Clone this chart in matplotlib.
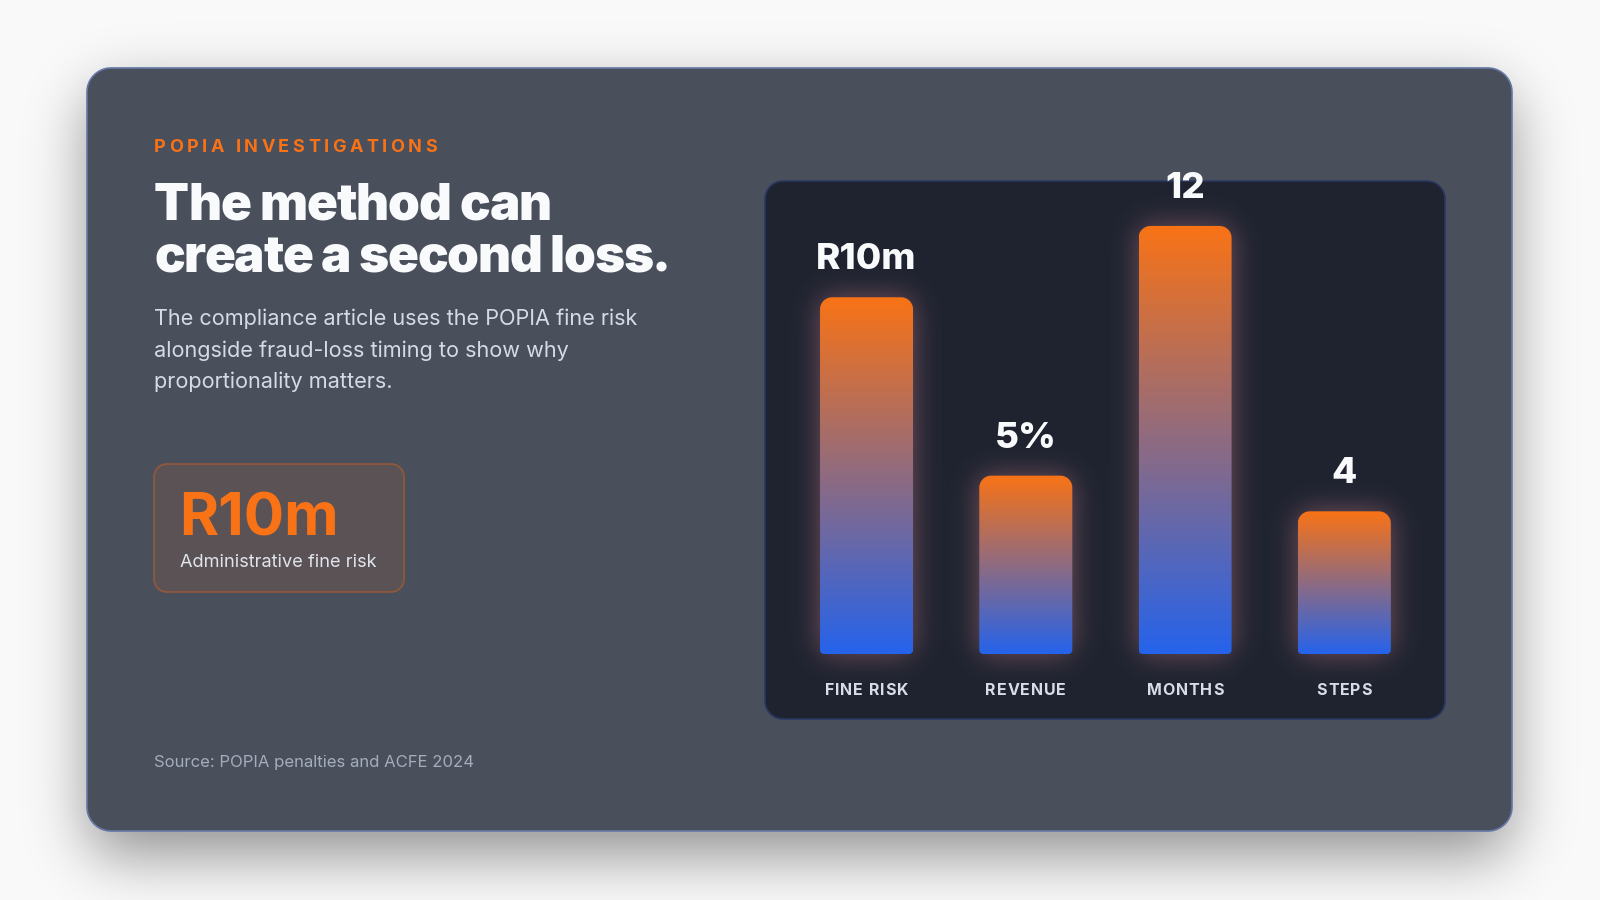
import numpy as np
import matplotlib
matplotlib.use("Agg")
import matplotlib.pyplot as plt
from matplotlib.path import Path
from matplotlib.patches import PathPatch
from matplotlib.font_manager import FontProperties
from matplotlib.textpath import TextToPath

plt.rcParams['font.family'] = ['Inter', 'DejaVu Sans']

# ---- content ----
eyebrow = "POPIA INVESTIGATIONS"
title_lines = ["The method can", "create a second loss."]
body_lines = ["The compliance article uses the POPIA fine risk",
              "alongside fraud-loss timing to show why",
              "proportionality matters."]
kpi_value = "R10m"
kpi_label = "Administrative fine risk"
source = "Source: POPIA penalties and ACFE 2024"

categories = ["FINE RISK", "REVENUE", "MONTHS", "STEPS"]
values = [10, 5, 12, 4]
value_labels = ["R10m", "5%", "12", "4"]

W, H = 1600, 900
ORANGE = np.array([249, 115, 22]) / 255
BLUE = np.array([37, 99, 235]) / 255
GLOW = np.array([205, 130, 140]) / 255


def rounded_verts(x0, y0, x1, y1, rt, rb, n=16):
    # pixel coords with y pointing down, y0 = top edge
    def arc(cx, cy, r, a0, a1):
        t = np.linspace(a0, a1, n)
        return np.column_stack([cx + r * np.cos(t), cy + r * np.sin(t)])
    v = np.vstack([arc(x1 - rt, y0 + rt, rt, -np.pi / 2, 0),
                   arc(x1 - rb, y1 - rb, rb, 0, np.pi / 2),
                   arc(x0 + rb, y1 - rb, rb, np.pi / 2, np.pi),
                   arc(x0 + rt, y0 + rt, rt, np.pi, 1.5 * np.pi)])
    return np.vstack([v, v[:1]])


def rr_mask(x0, y0, x1, y1, r):
    xx = np.arange(W)[None, :] + 0.5
    yy = np.arange(H)[:, None] + 0.5
    cx, cy = (x0 + x1) / 2, (y0 + y1) / 2
    dx = np.maximum(np.abs(xx - cx) - ((x1 - x0) / 2 - r), 0)
    dy = np.maximum(np.abs(yy - cy) - ((y1 - y0) / 2 - r), 0)
    return (np.hypot(dx, dy) <= r).astype(float)


def blur(a, s, pad=200):
    a = np.pad(a, pad)
    fy = np.fft.fftfreq(a.shape[0])
    fx = np.fft.fftfreq(a.shape[1])
    g = np.exp(-2 * (np.pi * s) ** 2 * (fy[:, None] ** 2 + fx[None, :] ** 2))
    out = np.real(np.fft.ifft2(np.fft.fft2(a) * g))
    return out[pad:-pad, pad:-pad]


def add_rr(ax, x0, y0, x1, y1, r, **kw):
    p = PathPatch(Path(rounded_verts(x0, y0, x1, y1, r, r), closed=True), **kw)
    ax.add_patch(p)
    return p


ttp = TextToPath()


def spaced_text(ax, x, y, s, size, weight, color, width=None, spacing=0.0,
                align='left', **kw):
    # letter-spaced text; either stretched to a pixel width or with fixed extra spacing
    fp = FontProperties(family=['Inter', 'DejaVu Sans'], weight=weight, size=size)
    tw = lambda q: ttp.get_text_width_height_descent(q, fp, ismath=False)[0] * 100 / 72
    base = tw("HH")
    adv = [tw("H" + c + "H") - base for c in s]
    last = tw(s[-1])
    if width is not None:
        spacing = (width - sum(adv[:-1]) - last) / (len(s) - 1)
    total = sum(adv[:-1]) + last + spacing * (len(s) - 1)
    pos = x - total / 2 if align == 'center' else x
    for c, a in zip(s, adv):
        ax.text(pos, y, c, fontsize=size, fontweight=weight, color=color,
                ha='left', **kw)
        pos += a + spacing


fig = plt.figure(figsize=(16, 9), dpi=100)
fig.patch.set_facecolor('#f9f9fa')

bg = fig.add_axes([0, 0, 1, 1])
bg.set_xlim(0, W)
bg.set_ylim(H, 0)
bg.axis('off')

# card and its shadow
card = (87, 68, 1512, 831)
sh = blur(rr_mask(card[0] + 2, card[1] + 24, card[2] - 2, card[3] + 24, 24), 30)
sh_img = np.zeros((H, W, 4))
sh_img[..., 3] = np.clip(sh * 0.42, 0, 1)
bg.imshow(sh_img, extent=(0, W, H, 0), zorder=0, interpolation='bilinear')
add_rr(bg, *card, 24, facecolor='#4a4f5c', edgecolor='#6478a6', lw=1.2, zorder=1)

# chart panel
panel = (765, 181, 1445, 719)
add_rr(bg, *panel, 18, facecolor='#1f2330', edgecolor='#2a3860', lw=1.2, zorder=2)

# bar axes
ax = fig.add_axes([panel[0] / W, 1 - 654 / H, (panel[2] - panel[0]) / W, (654 - panel[1]) / H])
ax.set_xlim(-0.6375, 3.632)
ax.set_ylim(0, max(values) * 1.105)
ax.axis('off')
x = np.arange(len(values))
bars = ax.bar(x, values, width=0.584)

rects = []
for r in bars:
    (dx0, dy0) = ax.transData.transform((r.get_x(), 0))
    (dx1, dy1) = ax.transData.transform((r.get_x() + r.get_width(), r.get_height()))
    rects.append((dx0, H - dy1, dx1, H - dy0))
    r.set_visible(False)

# soft glow behind bars
gm = np.zeros((H, W))
for (x0, y0, x1, y1) in rects:
    gm = np.maximum(gm, rr_mask(x0, y0, x1, y1, 10))
gl = blur(gm, 14)
glow = np.zeros((H, W, 4))
glow[..., :3] = GLOW
glow[..., 3] = np.clip(gl * 0.5, 0, 1)
bg.imshow(glow, extent=(0, W, H, 0), zorder=3, interpolation='bilinear')

# gradient bars
t = np.linspace(0, 1, 256)[:, None]
grad = (ORANGE[None, :] * (1 - t) + BLUE[None, :] * t)[:, None, :]
for (x0, y0, x1, y1) in rects:
    p = PathPatch(Path(rounded_verts(x0, y0, x1, y1, 12, 4), closed=True),
                  facecolor='none', edgecolor='none', zorder=4)
    bg.add_patch(p)
    im = bg.imshow(grad, extent=(x0, x1, y1, y0), aspect='auto', zorder=4,
                   interpolation='bilinear')
    im.set_clip_path(p)

for i, (v, lab) in enumerate(zip(values, value_labels)):
    ax.annotate(lab, (i, v), xytext=(0, 28 * 0.72), textcoords='offset points',
                ha='center', va='baseline', fontsize=26.5, fontweight='heavy', color='#f8fafc')

for (x0, y0, x1, y1), cat in zip(rects, categories):
    spaced_text(bg, (x0 + x1) / 2, y1 + 41, cat, 11.5, 'bold', '#d7dde8', spacing=0.9,
                align='center', va='baseline', zorder=5)

# left column text
spaced_text(bg, 154, 152, eyebrow, 13, 'bold', '#f97316', width=283, va='baseline', zorder=5)
for yb, line, wd in zip([220, 272], title_lines, [398, 517]):
    spaced_text(bg, 154, yb, line, 36.8, 900, '#f8fafc', width=wd, va='baseline', zorder=5)
for yb, line in zip([325, 357, 388], body_lines):
    bg.text(154, yb, line, fontsize=15.6, color='#d5dbe5', va='baseline', ha='left', zorder=5)

# KPI box
add_rr(bg, 154, 464, 404, 592, 13, facecolor='#5a5254', edgecolor='#94583a', lw=1.2, zorder=2)
bg.text(179, 536, kpi_value, fontsize=43, fontweight='bold', color='#f97316',
        va='baseline', ha='left', zorder=5)
bg.text(180, 567, kpi_label, fontsize=13.1, color='#dfe4ec', va='baseline', ha='left', zorder=5)

bg.text(154, 767, source, fontsize=12, color='#a4adbc', va='baseline', ha='left', zorder=5)

bg.set_xlim(0, W)
bg.set_ylim(H, 0)
fig.savefig('out.png', dpi=100, facecolor=fig.get_facecolor())
